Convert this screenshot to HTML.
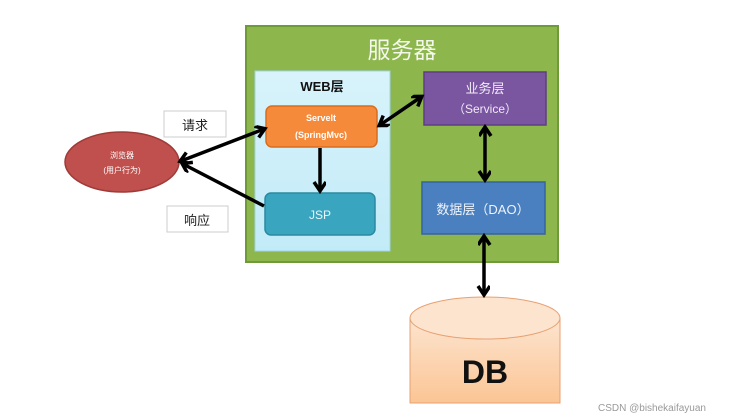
<!DOCTYPE html>
<html><head><meta charset="utf-8"><style>
body{margin:0;background:#fff;width:747px;height:419px;overflow:hidden}
svg{display:block}
text{font-family:"Liberation Sans","Noto Sans CJK SC",sans-serif}
</style></head><body>
<svg width="747" height="419" viewBox="0 0 747 419">
<defs>
<marker id="a" markerWidth="14" markerHeight="14" refX="9" refY="6" orient="auto-start-reverse" markerUnits="userSpaceOnUse"><path d="M1,0 L10,6 L1,12" fill="none" stroke="#000" stroke-width="3.5"/></marker>
<linearGradient id="w" x1="0" y1="0" x2="0" y2="1"><stop offset="0" stop-color="#d8f3fb"/><stop offset="1" stop-color="#c2ebf8"/></linearGradient>
<linearGradient id="db" x1="0" y1="0" x2="0" y2="1"><stop offset="0" stop-color="#fde4cf"/><stop offset="1" stop-color="#fbc595"/></linearGradient>
</defs>
<rect x="246" y="26" width="312" height="236" fill="#8db64c" stroke="#6f9a38" stroke-width="2"/>
<text x="402" y="58" font-size="23" fill="#f4f8ec" text-anchor="middle">服务器</text>
<rect x="255" y="71" width="135" height="180" fill="url(#w)" stroke="#9fd4ea"/>
<text x="322" y="91" font-size="13" font-weight="bold" text-anchor="middle" fill="#111">WEB层</text>
<rect x="266" y="106" width="111" height="41" rx="6" fill="#f48a3a" stroke="#d86d20" stroke-width="1.5"/>
<text x="321" y="121" font-size="9" font-weight="bold" fill="#fff" text-anchor="middle">Servelt</text>
<text x="321" y="138" font-size="9" font-weight="bold" fill="#fff" text-anchor="middle">(SpringMvc)</text>
<rect x="265" y="193" width="110" height="42" rx="6" fill="#3aa5be" stroke="#2a8aa2" stroke-width="1.5"/>
<text x="320" y="219" font-size="12" fill="#e8f6fa" text-anchor="middle">JSP</text>
<rect x="424" y="72" width="122" height="53" fill="#7a55a0" stroke="#5e3e84" stroke-width="1.5"/>
<text x="485" y="93" font-size="13" fill="#f1eaf7" text-anchor="middle">业务层</text>
<text x="485" y="113" font-size="12" fill="#f1eaf7" text-anchor="middle">（Service）</text>
<rect x="422" y="182" width="123" height="52" fill="#4a7fc0" stroke="#36659e" stroke-width="1.5"/>
<text x="483" y="214" font-size="13" fill="#eef4fb" text-anchor="middle">数据层（DAO）</text>
<ellipse cx="122" cy="162" rx="57" ry="30" fill="#c0504d" stroke="#9e3b38" stroke-width="1.5"/>
<text x="122" y="158" font-size="8" fill="#fff" text-anchor="middle">浏览器</text>
<text x="122" y="173" font-size="8" fill="#fff" text-anchor="middle">(用户行为)</text>
<rect x="164" y="111" width="62" height="26" fill="#fff" stroke="#ccc"/>
<text x="195" y="130" font-size="13" text-anchor="middle" fill="#222">请求</text>
<rect x="167" y="206" width="61" height="26" fill="#fff" stroke="#ccc"/>
<text x="197" y="225" font-size="13" text-anchor="middle" fill="#222">响应</text>
<path d="M410,318 L410,403 L560,403 L560,318" fill="url(#db)" stroke="#e8a070"/>
<ellipse cx="485" cy="318" rx="75" ry="21" fill="#fde4cf" stroke="#e8a070"/>
<text x="485" y="383" font-size="32" font-weight="bold" text-anchor="middle" fill="#111">DB</text>
<g stroke="#000" stroke-width="3.5" fill="none">
<line x1="181" y1="161" x2="264" y2="129" marker-start="url(#a)" marker-end="url(#a)"/>
<line x1="264" y1="206" x2="183" y2="164" marker-end="url(#a)"/>
<line x1="380" y1="125" x2="421" y2="97" marker-start="url(#a)" marker-end="url(#a)"/>
<line x1="320" y1="148" x2="320" y2="190" marker-end="url(#a)"/>
<line x1="485" y1="128" x2="485" y2="179" marker-start="url(#a)" marker-end="url(#a)"/>
<line x1="484" y1="237" x2="484" y2="294" marker-start="url(#a)" marker-end="url(#a)"/>
</g>
<text x="598" y="411" font-size="10" fill="#999">CSDN @bishekaifayuan</text>
</svg>
</body></html>
